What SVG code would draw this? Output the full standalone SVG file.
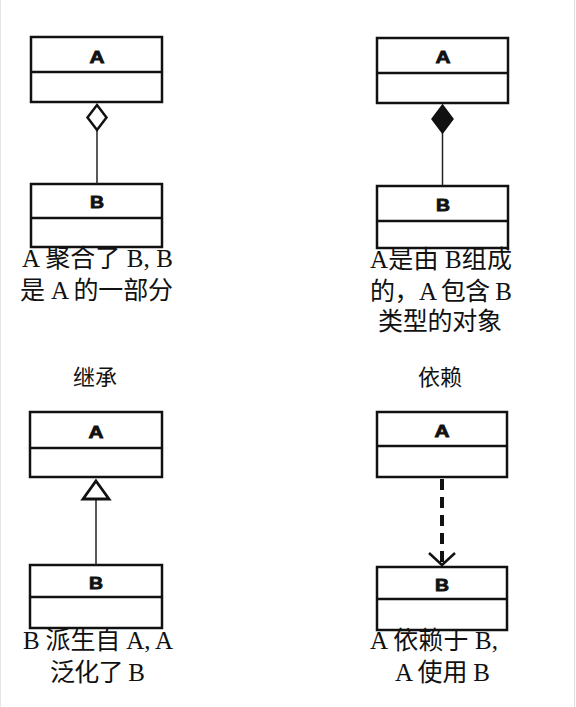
<svg xmlns="http://www.w3.org/2000/svg" width="576" height="707" viewBox="0 0 576 707">
<style>
.box{fill:#fff;stroke:#111;stroke-width:2.5}
.div{stroke:#111;stroke-width:2.5}
.lbl{font-family:"Liberation Sans",Arial,sans-serif;font-weight:bold;font-size:16px;fill:#111;stroke:#111;stroke-width:0.8;text-anchor:middle}
.cap{font-family:"Liberation Serif","Noto Sans CJK SC",serif;font-size:25px;fill:#111}
.ttl{font-family:"Noto Sans CJK SC",sans-serif;font-size:22px;fill:#111;text-anchor:middle}
.ln{stroke:#222;stroke-width:1.5;fill:none}
</style>
<rect x="0" y="0" width="576" height="707" fill="#fff"/>
<line x1="574.5" y1="0" x2="574.5" y2="707" stroke="#ddd" stroke-width="1"/>
<line x1="0.5" y1="0" x2="0.5" y2="707" stroke="#e6e6e6" stroke-width="1"/>

<g id="agg-A">
<rect class="box" x="31" y="37" width="131" height="65"/>
<line class="div" x1="31" y1="72" x2="162" y2="72"/>
<text class="lbl" x="97" y="63" textLength="15" lengthAdjust="spacingAndGlyphs">A</text>
</g>
<g id="agg-B">
<rect class="box" x="31" y="184" width="131" height="63"/>
<line class="div" x1="31" y1="218" x2="162" y2="218"/>
<text class="lbl" x="97" y="208" textLength="14" lengthAdjust="spacingAndGlyphs">B</text>
</g>
<g id="comp-A">
<rect class="box" x="377" y="38" width="131" height="65"/>
<line class="div" x1="377" y1="73" x2="508" y2="73"/>
<text class="lbl" x="443" y="63" textLength="15" lengthAdjust="spacingAndGlyphs">A</text>
</g>
<g id="comp-B">
<rect class="box" x="377" y="186" width="131" height="62"/>
<line class="div" x1="377" y1="221" x2="508" y2="221"/>
<text class="lbl" x="443" y="211" textLength="14" lengthAdjust="spacingAndGlyphs">B</text>
</g>
<g id="inh-A">
<rect class="box" x="30" y="412" width="132" height="65"/>
<line class="div" x1="30" y1="448" x2="162" y2="448"/>
<text class="lbl" x="96" y="438" textLength="15" lengthAdjust="spacingAndGlyphs">A</text>
</g>
<g id="inh-B">
<rect class="box" x="30" y="565" width="132" height="63"/>
<line class="div" x1="30" y1="597" x2="162" y2="597"/>
<text class="lbl" x="96" y="589" textLength="14" lengthAdjust="spacingAndGlyphs">B</text>
</g>
<g id="dep-A">
<rect class="box" x="377" y="412" width="130" height="65"/>
<line class="div" x1="377" y1="446" x2="507" y2="446"/>
<text class="lbl" x="442" y="437" textLength="15" lengthAdjust="spacingAndGlyphs">A</text>
</g>
<g id="dep-B">
<rect class="box" x="377" y="567" width="130" height="63"/>
<line class="div" x1="377" y1="599" x2="507" y2="599"/>
<text class="lbl" x="442" y="591" textLength="14" lengthAdjust="spacingAndGlyphs">B</text>
</g>

<g id="connectors">
<line class="ln" x1="97" y1="130" x2="97" y2="184"/>
<polygon points="97,105 106.5,117.5 97,130 87.5,117.5" fill="#fff" stroke="#111" stroke-width="2.5"/>
<line class="ln" x1="442.5" y1="133" x2="442.5" y2="186"/>
<polygon points="442.5,105 453,119 442.5,133 432,119" fill="#111" stroke="#111" stroke-width="1.5"/>
<line class="ln" x1="96" y1="500" x2="96" y2="565"/>
<polygon points="96,481 109,499 83,499" fill="#fff" stroke="#111" stroke-width="2.8"/>
<line x1="442" y1="479" x2="442" y2="563" stroke="#111" stroke-width="4" stroke-dasharray="11 7"/>
<polyline points="429,553 442,565 455,553" fill="none" stroke="#111" stroke-width="2.5"/>
</g>

<g id="captions">
<text class="cap" x="22" y="267" textLength="151" lengthAdjust="spacing">A 聚合了 B, B</text>
<text class="cap" x="20" y="299" textLength="153" lengthAdjust="spacing">是 A 的一部分</text>
<text class="cap" x="370" y="268" textLength="142" lengthAdjust="spacing">A是由 B组成</text>
<text class="cap" x="370" y="300" textLength="142" lengthAdjust="spacing">的，A 包含 B</text>
<text class="cap" x="378" y="330" textLength="124" lengthAdjust="spacing">类型的对象</text>
<text class="cap" x="23" y="649" textLength="150" lengthAdjust="spacing">B 派生自 A, A</text>
<text class="cap" x="50" y="681" textLength="95" lengthAdjust="spacing">泛化了 B</text>
<text class="cap" x="370" y="649" textLength="128" lengthAdjust="spacing">A 依赖于 B,</text>
<text class="cap" x="395" y="681" textLength="95" lengthAdjust="spacing">A 使用 B</text>
<text class="ttl" x="95" y="385">继承</text>
<text class="ttl" x="440" y="385">依赖</text>
</g>
</svg>
